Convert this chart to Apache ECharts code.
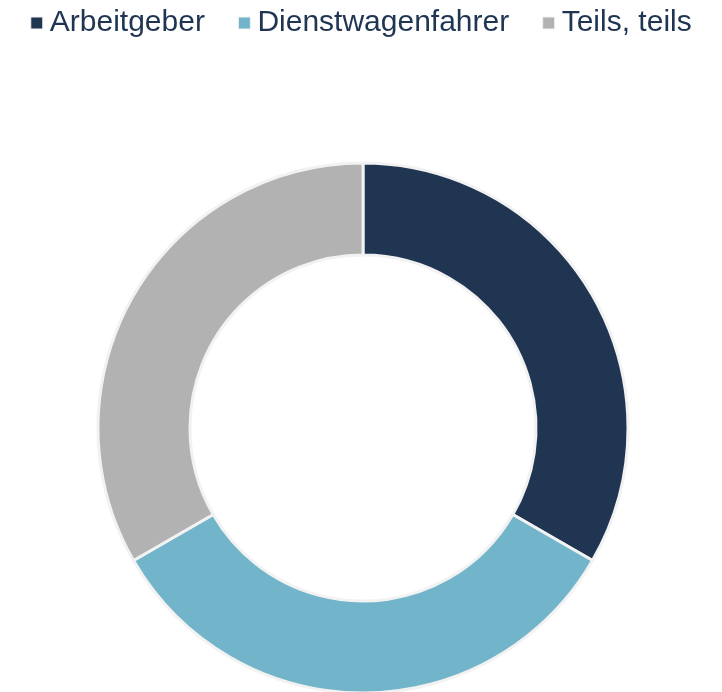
<!DOCTYPE html>
<html>
<head>
<meta charset="utf-8">
<script src="https://cdn.jsdelivr.net/npm/echarts@6/dist/echarts.min.js"></script>
<style>
  html, body { margin: 0; padding: 0; background: #fff; }
  #chart { width: 722px; height: 692px; }
</style>
</head>
<body>
<div id="chart"></div>
<script>
// Anteile (drei gleich grosse Segmente)
const categories = ['Arbeitgeber', 'Dienstwagenfahrer', 'Teils, teils']
const values = [33.3, 33.3, 33.3]
const colors = ['#1f3552', '#72b4ca', '#b2b2b2']

const chart = echarts.init(document.getElementById('chart'))

const option = {
  backgroundColor: '#ffffff',
  color: colors,
  animation: false,
  legend: {
    top: 3,
    left: 'center',
    icon: 'rect',
    itemWidth: 12,
    itemHeight: 12,
    itemGap: 33,
    itemStyle: { borderColor: '#f2f2f2', borderWidth: 1 },
    textStyle: {
      color: '#1f3552',
      fontSize: 30,
      fontFamily: 'Liberation Sans, Arial, sans-serif',
      padding: [0, 0, 0, 2]
    },
    data: categories
  },
  series: [{
    type: 'pie',
    center: [363, 428],
    radius: [173, 265],
    startAngle: 90,
    clockwise: true,
    label: { show: false },
    labelLine: { show: false },
    emphasis: { disabled: true },
    itemStyle: { borderColor: '#f2f2f2', borderWidth: 3 },
    data: categories.map((name, i) => ({ name, value: values[i] }))
  }]
}

chart.setOption(option)
</script>
</body>
</html>
